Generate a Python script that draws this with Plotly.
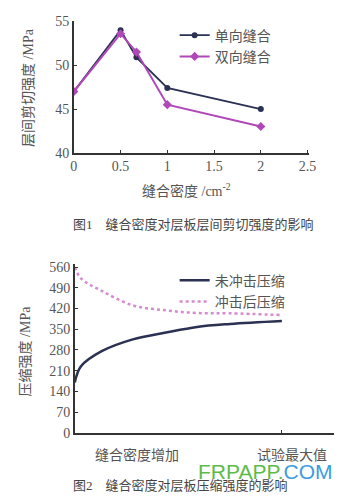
import plotly.graph_objects as go

W, H = 362, 503

# Chart 1 data
density = [0, 0.5, 0.67, 1, 2]
single = [47.0, 54.0, 50.9, 47.4, 45.0]
double = [47.0, 53.6, 51.5, 45.5, 43.0]
x1_ticks = [0, 0.5, 1, 1.5, 2, 2.5]
x1_labels = ["0", "0.5", "1", "1.5", "2", "2.5"]
y1_ticks = [40, 45, 50, 55]

# Chart 2 data
rel_density = [0, 0.03, 0.13, 0.28, 0.44, 0.59, 0.75, 1.0]
unimpacted = [170, 225, 276, 316, 339, 358, 368, 378]
impacted = [560, 522, 480, 431, 414, 405, 404, 398]
y2_ticks = [0, 70, 140, 210, 280, 350, 420, 490, 560]

NAVY = "#2b3152"
PINK1 = "#b048b8"
PINK2 = "#d68ad0"
TXT = "#555555"
FONT = "Liberation Serif, Noto Sans CJK SC"

def px(x):
    return x / W

def py(y):
    return 1 - y / H

fig = go.Figure()

fig.add_trace(go.Scatter(x=density, y=single, mode="lines+markers", name="单向缝合",
                         line=dict(color=NAVY, width=1.8), marker=dict(symbol="circle", size=6, color=NAVY),
                         xaxis="x", yaxis="y", legend="legend"))
fig.add_trace(go.Scatter(x=density, y=double, mode="lines+markers", name="双向缝合",
                         line=dict(color=PINK1, width=2), marker=dict(symbol="diamond", size=7, color=PINK1),
                         xaxis="x", yaxis="y", legend="legend"))

fig.add_trace(go.Scatter(x=rel_density, y=unimpacted, mode="lines", name="未冲击压缩",
                         line=dict(color=NAVY, width=2.5, shape="spline"),
                         xaxis="x2", yaxis="y2", legend="legend2"))
fig.add_trace(go.Scatter(x=rel_density, y=impacted, mode="lines", name="冲击后压缩",
                         line=dict(color=PINK2, width=2.5, shape="spline", dash="dot"),
                         xaxis="x2", yaxis="y2", legend="legend2"))

axis_common = dict(showline=True, linecolor="#333333", linewidth=1.5, showgrid=False, zeroline=False,
                   ticks="inside", ticklen=3, tickcolor="#333333",
                   tickfont=dict(family=FONT, size=14, color=TXT))

fig.update_layout(
    width=W, height=H, margin=dict(l=0, r=0, t=0, b=0),
    paper_bgcolor="white", plot_bgcolor="white",
    showlegend=True,
    xaxis=dict(domain=[px(72), px(315)], range=[0, 2.52], anchor="y",
               tickvals=x1_ticks, ticktext=x1_labels, **axis_common),
    yaxis=dict(domain=[py(151), py(15)], range=[40, 55.1], anchor="x",
               tickvals=y1_ticks, **axis_common),
    xaxis2=dict(domain=[px(73), px(340)], range=[0, 1.25], anchor="y2",
                tickvals=[1], showticklabels=False, **axis_common),
    yaxis2=dict(domain=[py(439), py(265)], range=[0, 572], anchor="x2",
                tickvals=y2_ticks, **axis_common),
    legend=dict(x=px(176), y=py(14), xanchor="left", yanchor="top", bgcolor="rgba(0,0,0,0)",
                font=dict(family=FONT, size=14, color=TXT), itemwidth=30, tracegroupgap=0),
    legend2=dict(x=px(176), y=py(266), xanchor="left", yanchor="top", bgcolor="rgba(0,0,0,0)",
                 font=dict(family=FONT, size=14, color=TXT), itemwidth=30, tracegroupgap=0),
)

def note(text, x, y, size=14, color=TXT, angle=0, family=FONT):
    return dict(text=text, x=px(x), y=py(y), xref="paper", yref="paper", xanchor="center",
                yanchor="middle", textangle=angle, showarrow=False,
                font=dict(family=family, size=size, color=color))

ann = [
    note("缝合密度 /cm<sup>-2</sup>", 188, 189),
    note("层间剪切强度 /MPa", 25, 84, angle=-90),
    note("图1　缝合密度对层板层间剪切强度的影响", 195, 225, size=13, color="#444444"),
    note("压缩强度 /MPa", 22, 355, angle=-90),
    note("缝合密度增加", 137, 462),
    note("试验最大值", 297, 462),
    note('<span style="color:#5dbb4a">FRPAPP.</span><span style="color:#3a9ee0">COM</span>',
         270, 479, size=21, family="Liberation Sans"),
    note("图2　缝合密度对层板压缩强度的影响", 182, 493, size=13, color="#444444"),
]
fig.update_layout(annotations=ann)

fig.write_html("out.html", config={"displayModeBar": False},
               post_script="document.body.style.margin='0';document.body.style.padding='0';document.documentElement.style.overflow='hidden';")
